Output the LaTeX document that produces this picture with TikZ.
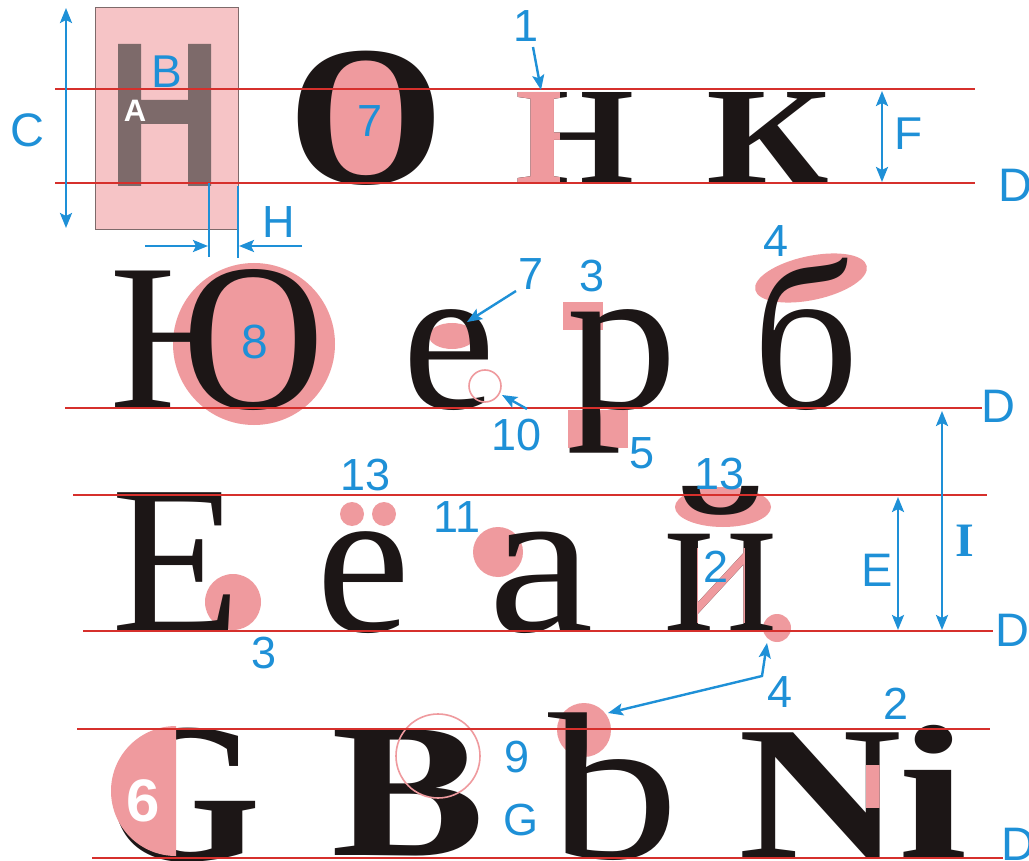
\documentclass[tikz,border=0pt]{standalone}
\usepackage{fontspec}
\usetikzlibrary{arrows.meta}
\newfontfamily\lserif{Liberation Serif}
\newfontfamily\lsans{Liberation Sans}
\definecolor{lblue}{RGB}{30,144,215}
\definecolor{lred}{RGB}{214,48,44}
\definecolor{lpink}{RGB}{239,154,158}
\definecolor{lpinklt}{RGB}{246,196,198}
\definecolor{ink}{RGB}{28,22,22}
\definecolor{hgray}{RGB}{125,106,106}
\newcommand{\fsz}[1]{\fontsize{#1}{#1}\selectfont}
\newcommand{\wide}[2]{\scalebox{#1}[1]{#2}}
\tikzset{
  guide/.style={draw=lred, line width=1.8pt},
  arr/.style={draw=lblue, line width=2.4pt, -{Stealth[length=15pt,width=12pt,inset=3pt]}},
  darr/.style={draw=lblue, line width=2.4pt, {Stealth[length=15pt,width=12pt,inset=3pt]}-{Stealth[length=15pt,width=12pt,inset=3pt]}},
  bline/.style={draw=lblue, line width=2.4pt},
  lab/.style={text=lblue, font=\lsans\fsz{45}, inner sep=0pt},
  wlab/.style={text=white, font=\lsans\bfseries\fsz{31}, inner sep=0pt},
  glyph/.style={text=ink, inner sep=0pt, anchor=base},
  gA/.style={glyph, font=\lserif\bfseries\fsz{139}},
  gO/.style={glyph, font=\lserif\bfseries\fsz{200}},
  gB/.style={glyph, font=\lserif\fsz{210}},
  gC/.style={glyph, font=\lserif\fsz{212}},
  gD/.style={glyph, font=\lserif\bfseries\fsz{192}},
  hl/.style={fill=lpink, draw=none},
  ring/.style={draw=lpink, line width=1.6pt, fill=none},
}
\begin{document}
\begin{tikzpicture}[x=1pt,y=-1pt]
\useasboundingbox (0,0) rectangle (1029,861);
\fill[white] (0,0) rectangle (1029,861);

% ---------- pink highlights behind glyphs ----------
\draw[fill=lpinklt, draw=hgray, line width=0.8pt] (95,7) rectangle (238,229);
\fill[hgray] (118,44) rectangle (141,186) (188,44) rectangle (211,186) (141,100) rectangle (188,124);
\fill[hl] (368,118) ellipse [x radius=50pt, y radius=63pt];
\fill[hl] (254,344) circle (81pt);
\fill[hl] (452,336) ellipse [x radius=23pt, y radius=13pt];
\fill[hl] (563,302) rectangle (603,330);
\fill[hl] (568,410) rectangle (628,448);
\begin{scope}[shift={(811,278)}, rotate=12]
  \fill[hl] (0,0) ellipse [x radius=57pt, y radius=22pt];
\end{scope}
\fill[hl] (233,602) circle (28pt);
\fill[hl] (352,514) circle (12pt);
\fill[hl] (384,514) circle (12pt);
\fill[hl] (498,552) circle (25pt);
\fill[hl] (723,507) ellipse [x radius=48pt, y radius=20pt];
\fill[hl] (777,628) circle (14pt);
\fill[hl] (584,730) circle (27pt);

% ---------- glyphs ----------
\node[gO] (O1) at (366,184) {O};
\node[gA] (N1) at (575,184) {\wide{1.1}{Н}};
\begin{scope}
  \clip (500,80) rectangle (559,195);
  \node[gA, text=lpink] (N1p) at (575,184) {\wide{1.1}{Н}};
\end{scope}
\node[gA] (K1) at (768,184) {\wide{1.22}{К}};

\node[gB] (Yu) at (217,408) {Ю};
\node[gB] (e2) at (449,408) {е};
\node[gB] (r2) at (622,408) {\wide{1.06}{р}};
\node[gB] (b2) at (806,408) {б};

\node[gC] (E3) at (176,631) {Е};
\node[gC] (yo3) at (364,631) {е};
\node[gC] (a3) at (541,631) {\wide{1.12}{а}};
\node[gC] (j3) at (721,631) {й};
\begin{scope}
  \clip (697,548) rectangle (744,622);
  \node[gC, text=lpink] (j3p) at (721,631) {й};
\end{scope}

\node[gD, font=\lserif\bfseries\fsz{200}] (G4) at (183,860) {G};
\fill[hl] (176,726) arc[start angle=90, end angle=270, radius=65pt] -- cycle;
\node[gD] (B4) at (408,855) {\wide{1.2}{B}};
\node[gB] (b4) at (614,858) {\wide{1.25}{b}};
\node[gD] (N4) at (820,858) {\wide{1.18}{N}};
\begin{scope}
  \clip (866,765) rectangle (895,807);
  \node[gD, text=lpink] (N4p) at (820,858) {\wide{1.18}{N}};
\end{scope}
\node[gD] (i4) at (933,858) {\wide{1.3}{i}};

% outline rings
\draw[ring] (485,386) circle (16pt);
\draw[ring] (438,756) circle (42pt);

% ---------- guide lines ----------
\draw[guide] (55,89) -- (975,89);
\draw[guide] (55,183) -- (975,183);
\draw[guide] (65,408) -- (982,408);
\draw[guide] (73,495) -- (987,495);
\draw[guide] (83,631) -- (993,631);
\draw[guide] (77,729) -- (990,729);
\draw[guide] (92,858) -- (1003,858);

% ---------- dimension arrows ----------
\coordinate (cT) at (66,8);   \coordinate (cB) at (66,228);
\draw[darr] (cT) -- (cB);
\coordinate (hL1) at (209,183); \coordinate (hL2) at (209,257);
\coordinate (hR1) at (238,186); \coordinate (hR2) at (238,258);
\draw[bline] (hL1) -- (hL2);
\draw[bline] (hR1) -- (hR2);
\coordinate (ha1) at (145,246); \coordinate (ha2) at (208,246);
\coordinate (hb1) at (302,246); \coordinate (hb2) at (239,246);
\draw[arr] (ha1) -- (ha2);
\draw[arr] (hb1) -- (hb2);
\coordinate (fT) at (882,91); \coordinate (fB) at (882,182);
\draw[darr] (fT) -- (fB);
\coordinate (eT) at (898,497); \coordinate (eB) at (898,630);
\draw[darr] (eT) -- (eB);
\coordinate (iT) at (942,411); \coordinate (iB) at (942,630);
\draw[darr] (iT) -- (iB);

% ---------- pointer arrows ----------
\coordinate (p1a) at (533,47);  \coordinate (p1b) at (541,90);
\draw[arr] (p1a) -- (p1b);
\coordinate (p7a) at (516,291); \coordinate (p7b) at (467,322);
\draw[arr] (p7a) -- (p7b);
\coordinate (p10a) at (527,409); \coordinate (p10b) at (502,395);
\draw[arr] (p10a) -- (p10b);
\coordinate (p4a) at (767,643); \coordinate (p4m) at (762,676); \coordinate (p4b) at (608,713);
\draw[darr] (p4a) -- (p4m) -- (p4b);

% ---------- labels ----------
\node[lab, font=\lsans\fsz{46}] (lB) at (167,72) {B};
\node[wlab] (lA) at (135,111) {A};
\node[lab, font=\lsans\fsz{47}] (lC) at (27,130) {C};
\node[lab] (lH) at (279,222) {H};
\node[lab] (l7a) at (370,121) {7};
\node[lab] (l1) at (526,26) {1};
\node[lab, font=\lsans\fsz{46}] (lF) at (909,134) {F};
\node[lab, font=\lsans\fsz{47}] (lD1) at (1015,185) {D};
\node[lab, font=\lsans\fsz{48}] (l8) at (255,342) {8};
\node[lab] (l7b) at (531,274) {7};
\node[lab] (l3a) at (592,276) {3};
\node[lab] (l4a) at (776,241) {4};
\node[lab] (l10) at (517,435) {10};
\node[lab] (l5) at (642,453) {5};
\node[lab, font=\lsans\fsz{47}] (lD2) at (998,406) {D};
\node[lab] (l13a) at (366,475) {13};
\node[lab] (l11) at (457,517) {11};
\node[lab] (l13b) at (720,474) {13};
\node[lab] (l2a) at (716,567) {2};
\node[lab, font=\lsans\fsz{47}] (lE) at (877,570) {E};
\node[lab, font=\lserif\bfseries\fsz{48}] (lI) at (965,541) {I};
\node[lab, font=\lsans\fsz{47}] (lD3) at (1012,630) {D};
\node[lab] (l3b) at (264,653) {3};
\node[lab] (l4b) at (780,692) {4};
\node[lab] (l2b) at (896,704) {2};
\node[lab] (l9) at (517,757) {9};
\node[lab] (lG) at (521,820) {G};
\node[wlab, font=\lsans\bfseries\fsz{60}] (l6) at (143,801) {6};
\node[lab, font=\lsans\fsz{47}, anchor=north] (lD4) at (1018,828) {D};
\end{tikzpicture}
\end{document}
